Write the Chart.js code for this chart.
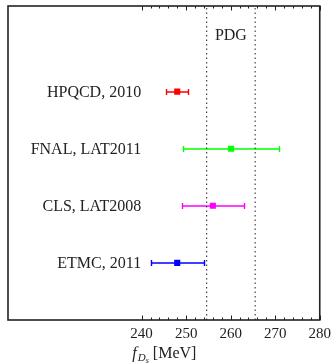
<!DOCTYPE html>
<html>
<head>
<meta charset="utf-8">
<script src="https://cdn.jsdelivr.net/npm/chart.js@4.4.1/dist/chart.umd.min.js"></script>
<style>
  html, body { margin: 0; padding: 0; background: #fff; }
</style>
</head>
<body>
<canvas id="fdsChart" width="336" height="364"></canvas>
<script>
// Lattice results for f_Ds (MeV), bottom row first
const groups = ['ETMC, 2011', 'CLS, LAT2008', 'FNAL, LAT2011', 'HPQCD, 2010'];
const rows = [1, 2, 3, 4];
const central = [248.0, 256.0, 260.1, 248.0];
const errors = [6.0, 7.0, 10.8, 2.5];
const colors = ['#0000ff', '#ff00ff', '#00ff00', '#ff0000'];
const pdgBand = [254.6, 265.5];
const xTicks = [240, 250, 260, 270, 280];
const minorStep = 2;

const FONT = '"Liberation Serif", "Times New Roman", serif';
const INK = '#222';

// error bars under the markers
const errorBarPlugin = {
  id: 'errorBars',
  beforeDatasetsDraw(chart) {
    const { ctx, scales: { x, y } } = chart;
    ctx.save();
    ctx.lineWidth = 1.4;
    rows.forEach((r, i) => {
      const py = Math.round(y.getPixelForValue(r));
      const x0 = Math.round(x.getPixelForValue(central[i] - errors[i])) + 0.5;
      const x1 = Math.round(x.getPixelForValue(central[i] + errors[i])) + 0.5;
      ctx.strokeStyle = colors[i];
      ctx.beginPath();
      ctx.moveTo(x0, py); ctx.lineTo(x1, py);
      ctx.moveTo(x0, py - 3); ctx.lineTo(x0, py + 3);
      ctx.moveTo(x1, py - 3); ctx.lineTo(x1, py + 3);
      ctx.stroke();
    });
    ctx.restore();
  }
};

// frame, inward ticks, group labels, PDG text, axis title
const decorPlugin = {
  id: 'decor',
  afterDraw(chart) {
    const { ctx, chartArea: a, scales: { x, y } } = chart;
    ctx.save();

    // ticks
    ctx.strokeStyle = INK;
    ctx.lineWidth = 1;
    ctx.beginPath();
    for (let v = xTicks[0]; v <= xTicks[xTicks.length - 1]; v += minorStep) {
      const px = Math.round(x.getPixelForValue(v)) + 0.5;
      const len = xTicks.includes(v) ? 4.5 : 2.5;
      ctx.moveTo(px, a.bottom); ctx.lineTo(px, a.bottom - len);
      ctx.moveTo(px, a.top); ctx.lineTo(px, a.top + len);
    }
    ctx.stroke();

    // frame
    ctx.lineWidth = 1.6;
    ctx.strokeRect(a.left, a.top, a.right - a.left, a.bottom - a.top);

    // group labels
    ctx.fillStyle = INK;
    ctx.font = '16px ' + FONT;
    ctx.textAlign = 'right';
    ctx.textBaseline = 'middle';
    rows.forEach((r, i) => {
      ctx.fillText(groups[i], x.getPixelForValue(239.9), y.getPixelForValue(r) + 1);
    });

    // PDG label
    ctx.textAlign = 'center';
    ctx.fillText('PDG', x.getPixelForValue((pdgBand[0] + pdgBand[1]) / 2), y.getPixelForValue(5.0) + 1);

    // axis title: f_{D_s} [MeV]
    const parts = [
      { t: 'f', f: 'italic 16px ' + FONT, dy: 0 },
      { t: 'D', f: 'italic 11px ' + FONT, dy: 3 },
      { t: 's', f: 'italic 8px ' + FONT, dy: 5 },
      { t: ' [MeV]', f: '16px ' + FONT, dy: 0 }
    ];
    let total = 0;
    parts.forEach(p => { ctx.font = p.f; p.w = ctx.measureText(p.t).width; total += p.w; });
    let tx = (a.left + a.right) / 2 - total / 2;
    const ty = a.bottom + 38;
    ctx.textAlign = 'left';
    ctx.textBaseline = 'alphabetic';
    parts.forEach(p => {
      ctx.font = p.f;
      ctx.fillText(p.t, tx, ty + p.dy);
      tx += p.w + (p.t === 'f' ? 1 : 0);
    });

    ctx.restore();
  }
};

const pdgLine = (v) => ({
  type: 'line',
  data: [{ x: v, y: 0 }, { x: v, y: 5.5 }],
  borderColor: '#444',
  borderWidth: 1.2,
  borderDash: [1.5, 3],
  pointRadius: 0,
  order: 2
});

new Chart(document.getElementById('fdsChart'), {
  type: 'scatter',
  data: {
    datasets: [
      pdgLine(pdgBand[0]),
      pdgLine(pdgBand[1]),
      {
        label: 'f_Ds',
        data: rows.map((r, i) => ({ x: central[i], y: r })),
        pointStyle: 'rect',
        pointRadius: 4.3,
        pointBackgroundColor: colors,
        pointBorderColor: colors,
        pointBorderWidth: 0,
        order: 1
      }
    ]
  },
  options: {
    responsive: false,
    animation: false,
    layout: { padding: { left: 8, right: 16, top: 6, bottom: 16 } },
    plugins: {
      legend: { display: false },
      tooltip: { enabled: false }
    },
    scales: {
      x: {
        type: 'linear',
        min: 210,
        max: 280,
        afterBuildTicks: (scale) => { scale.ticks = xTicks.map(v => ({ value: v })); },
        grid: { display: false, drawTicks: false },
        border: { display: false },
        ticks: {
          color: INK,
          padding: 5,
          maxRotation: 0,
          font: { family: FONT, size: 15 },
          callback: (v) => v
        }
      },
      y: {
        display: false,
        min: 0,
        max: 5.5
      }
    }
  },
  plugins: [errorBarPlugin, decorPlugin]
});
</script>
</body>
</html>
